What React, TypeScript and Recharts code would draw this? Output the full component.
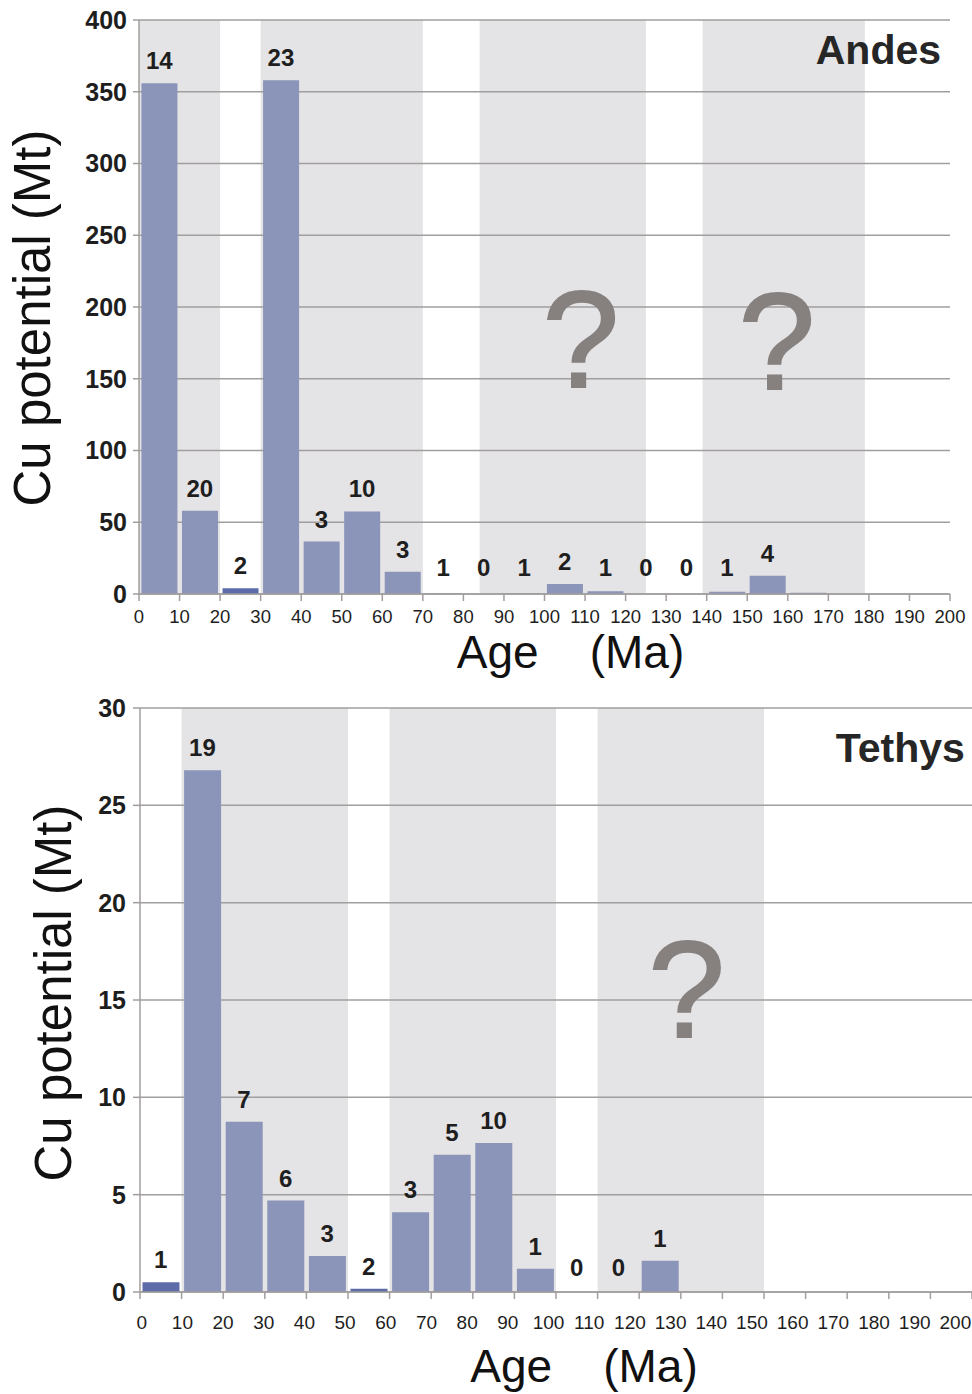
import React from 'react';
import {
  BarChart,
  Bar,
  XAxis,
  YAxis,
  CartesianGrid,
  ReferenceArea,
  ReferenceDot,
  Cell,
  Label,
} from 'recharts';

// ---------- data ----------
const BIN_MIDS = [5, 15, 25, 35, 45, 55, 65, 75, 85, 95, 105, 115, 125, 135, 145, 155, 165, 175, 185, 195];
const X_TICKS = [0, 10, 20, 30, 40, 50, 60, 70, 80, 90, 100, 110, 120, 130, 140, 150, 160, 170, 180, 190, 200];

// Andes
const ANDES_VALUES = [356, 58, 4, 358, 36.5, 57.5, 15.5, 0.6, 0, 0.3, 7, 2, 0, 0, 1.6, 12.8, 0.9, 0, 0, 0];
const ANDES_COUNTS = [14, 20, 2, 23, 3, 10, 3, 1, 0, 1, 2, 1, 0, 0, 1, 4, null, null, null, null];
const ANDES_Y_TICKS = [0, 50, 100, 150, 200, 250, 300, 350, 400];
const ANDES_BANDS = [
  [0, 20],
  [30, 70],
  [84, 125],
  [139, 179],
];
const ANDES_QUESTION_MARKS = [
  [109, 144],
  [157.3, 143],
];
const ANDES_DARK_BINS = [25];

// Tethys
const TETHYS_VALUES = [0.5, 26.8, 8.75, 4.7, 1.85, 0.17, 4.1, 7.05, 7.65, 1.2, 0, 0, 1.6, 0, 0, 0, 0, 0, 0, 0];
const TETHYS_COUNTS = [1, 19, 7, 6, 3, 2, 3, 5, 10, 1, 0, 0, 1, null, null, null, null, null, null, null];
const TETHYS_Y_TICKS = [0, 5, 10, 15, 20, 25, 30];
const TETHYS_BANDS = [
  [10, 50],
  [60, 100],
  [110, 150],
];
const TETHYS_QUESTION_MARKS = [[131.4, 13.1]];
const TETHYS_DARK_BINS = [5, 55];

// ---------- style ----------
const FONT = '"Liberation Sans", Arial, Helvetica, sans-serif';
const BAR_COLOR = '#8b94b9';
const BAR_DARK = '#5d6ca8';
const BAND_COLOR = '#e4e3e5';
const GRID_COLOR = '#a29e9e';
const TEXT_COLOR = '#1e1e1e';
const QMARK_COLOR = '#86817f';

const buildRows = (values: number[], counts: (number | null)[]) =>
  BIN_MIDS.map((mid, i) => ({ mid, value: values[i], count: counts[i] }));

const qmarkShape = (props: any) => (
  <text
    x={props.cx}
    y={props.cy}
    textAnchor="middle"
    fontSize={138}
    fill={QMARK_COLOR}
    stroke={QMARK_COLOR}
    strokeWidth={2}
    fontFamily="Liberation Sans"
  >
    ?
  </text>
);

const titleShape = (text: string) => (props: any) => (
  <text
    x={props.cx}
    y={props.cy}
    textAnchor="end"
    fontSize={41}
    fontWeight="bold"
    fill="#262626"
    fontFamily={FONT}
  >
    {text}
  </text>
);

type PanelProps = {
  height: number;
  marginTop: number;
  marginRight: number;
  yAxisWidth: number;
  xAxisHeight: number;
  values: number[];
  counts: (number | null)[];
  yTicks: number[];
  bands: number[][];
  qmarks: number[][];
  title: string;
  titlePos: number[];
  darkBins: number[];
  yTickSize: number;
  yTickMargin: number;
  xTickSize: number;
  xTickMargin: number;
  xTickFont: number;
  tickCompress: number;
  tickShift: number;
  labelGapTop: number;
  labelGapZero: number;
  xLabelDx: number;
  xLabelBaseline: number;
  yLabelX: number;
  yLabelDy: number;
};

function Panel(p: PanelProps) {
  const rows = buildRows(p.values, p.counts);
  const yMax = p.yTicks[p.yTicks.length - 1];
  const plotLeft = p.yAxisWidth;
  const plotBottom = p.height - p.xAxisHeight;

  const countShape = (count: number) => (props: any) => {
    const baseline = Math.min(Number(props.cy) - p.labelGapTop, plotBottom - p.labelGapZero);
    return (
      <text
        x={props.cx}
        y={baseline}
        textAnchor="middle"
        fontSize={24}
        fontWeight="bold"
        fill={TEXT_COLOR}
        fontFamily={FONT}
      >
        {String(count)}
      </text>
    );
  };

  const xTick = (props: any) => {
    const { x, y, payload } = props;
    const lx = plotLeft + p.tickShift + (Number(x) - plotLeft) * p.tickCompress;
    return (
      <text
        x={lx}
        y={y}
        dy="0.71em"
        textAnchor="middle"
        fontSize={p.xTickFont}
        fill={TEXT_COLOR}
        fontFamily={FONT}
      >
        {payload.value}
      </text>
    );
  };

  const xLabel = (props: any) => {
    const vb = props.viewBox;
    return (
      <text
        x={vb.x + vb.width / 2 + p.xLabelDx}
        y={vb.y + p.xLabelBaseline}
        textAnchor="middle"
        fontSize={46}
        fill="#111"
        fontFamily={FONT}
      >
        {'Age\u00a0\u00a0\u00a0\u00a0(Ma)'}
      </text>
    );
  };

  const yLabel = (props: any) => {
    const vb = props.viewBox;
    const cx = vb.x + p.yLabelX;
    const cy = vb.y + vb.height / 2 + p.yLabelDy;
    return (
      <text
        x={cx}
        y={cy}
        transform={`rotate(-90, ${cx}, ${cy})`}
        textAnchor="middle"
        fontSize={51}
        fill="#111"
        fontFamily={FONT}
      >
        Cu potential (Mt)
      </text>
    );
  };

  return (
    <BarChart
      width={972}
      height={p.height}
      data={rows}
      margin={{ top: p.marginTop, right: p.marginRight, left: 0, bottom: 0 }}
      barCategoryGap="6%"
    >
      <XAxis
        dataKey="mid"
        type="number"
        domain={[0, 200]}
        ticks={X_TICKS}
        interval={0}
        allowDataOverflow
        height={p.xAxisHeight}
        axisLine={{ stroke: GRID_COLOR, strokeWidth: 1.5 }}
        tickLine={{ stroke: GRID_COLOR, strokeWidth: 1.5 }}
        tickSize={p.xTickSize}
        tickMargin={p.xTickMargin}
        tick={xTick}
      >
        <Label content={xLabel} />
      </XAxis>
      <YAxis
        type="number"
        domain={[0, yMax]}
        ticks={p.yTicks}
        interval={0}
        width={p.yAxisWidth}
        axisLine={{ stroke: GRID_COLOR, strokeWidth: 1.5 }}
        tickLine={{ stroke: GRID_COLOR, strokeWidth: 1.5 }}
        tickSize={p.yTickSize}
        tickMargin={p.yTickMargin}
        tick={{ fontSize: 25, fontWeight: 'bold', fill: TEXT_COLOR, fontFamily: FONT }}
      >
        <Label content={yLabel} />
      </YAxis>
      {p.bands.map(([a, b], i) => (
        <ReferenceArea
          key={`band-${i}`}
          x1={a}
          x2={b}
          y1={0}
          y2={yMax}
          fill={BAND_COLOR}
          fillOpacity={1}
          stroke="none"
          ifOverflow="visible"
          zIndex={-200}
        />
      ))}
      <CartesianGrid vertical={false} stroke={GRID_COLOR} strokeWidth={1.5} />
      <Bar dataKey="value" isAnimationActive={false}>
        {rows.map((r) => (
          <Cell key={r.mid} fill={p.darkBins.includes(r.mid) ? BAR_DARK : BAR_COLOR} />
        ))}
      </Bar>
      {rows.map((r) =>
        r.count === null ? null : (
          <ReferenceDot
            key={`c-${r.mid}`}
            x={r.mid}
            y={r.value}
            r={0}
            ifOverflow="visible"
            shape={countShape(r.count)}
          />
        ),
      )}
      {p.qmarks.map(([qx, qy], i) => (
        <ReferenceDot
          key={`q-${i}`}
          x={qx}
          y={qy}
          r={0}
          ifOverflow="visible"
          shape={qmarkShape}
        />
      ))}
      <ReferenceDot
        x={p.titlePos[0]}
        y={p.titlePos[1]}
        r={0}
        ifOverflow="visible"
        shape={titleShape(p.title)}
      />
    </BarChart>
  );
}

export default function App() {
  return (
    <div
      style={{
        position: 'absolute',
        left: 0,
        top: 0,
        width: 972,
        height: 1394,
        background: '#fff',
        overflow: 'hidden',
      }}
    >
      <Panel
        height={690}
        marginTop={20}
        marginRight={22}
        yAxisWidth={139}
        xAxisHeight={96}
        values={ANDES_VALUES}
        counts={ANDES_COUNTS}
        yTicks={ANDES_Y_TICKS}
        bands={ANDES_BANDS}
        qmarks={ANDES_QUESTION_MARKS}
        title="Andes"
        titlePos={[197.8, 369]}
        darkBins={ANDES_DARK_BINS}
        yTickSize={6}
        yTickMargin={6}
        xTickSize={7}
        xTickMargin={9}
        xTickFont={18.5}
        tickCompress={1}
        tickShift={0}
        labelGapTop={14}
        labelGapZero={18}
        xLabelDx={26}
        xLabelBaseline={74}
        yLabelX={50}
        yLabelDy={11}
      />
      <Panel
        height={704}
        marginTop={18}
        marginRight={0}
        yAxisWidth={140}
        xAxisHeight={102}
        values={TETHYS_VALUES}
        counts={TETHYS_COUNTS}
        yTicks={TETHYS_Y_TICKS}
        bands={TETHYS_BANDS}
        qmarks={TETHYS_QUESTION_MARKS}
        title="Tethys"
        titlePos={[198.3, 27.25]}
        darkBins={TETHYS_DARK_BINS}
        yTickSize={7}
        yTickMargin={7}
        xTickSize={7}
        xTickMargin={17}
        xTickFont={19}
        tickCompress={0.978}
        tickShift={1.7}
        labelGapTop={14}
        labelGapZero={16}
        xLabelDx={28}
        xLabelBaseline={90}
        yLabelX={71}
        yLabelDy={-7}
      />
    </div>
  );
}
